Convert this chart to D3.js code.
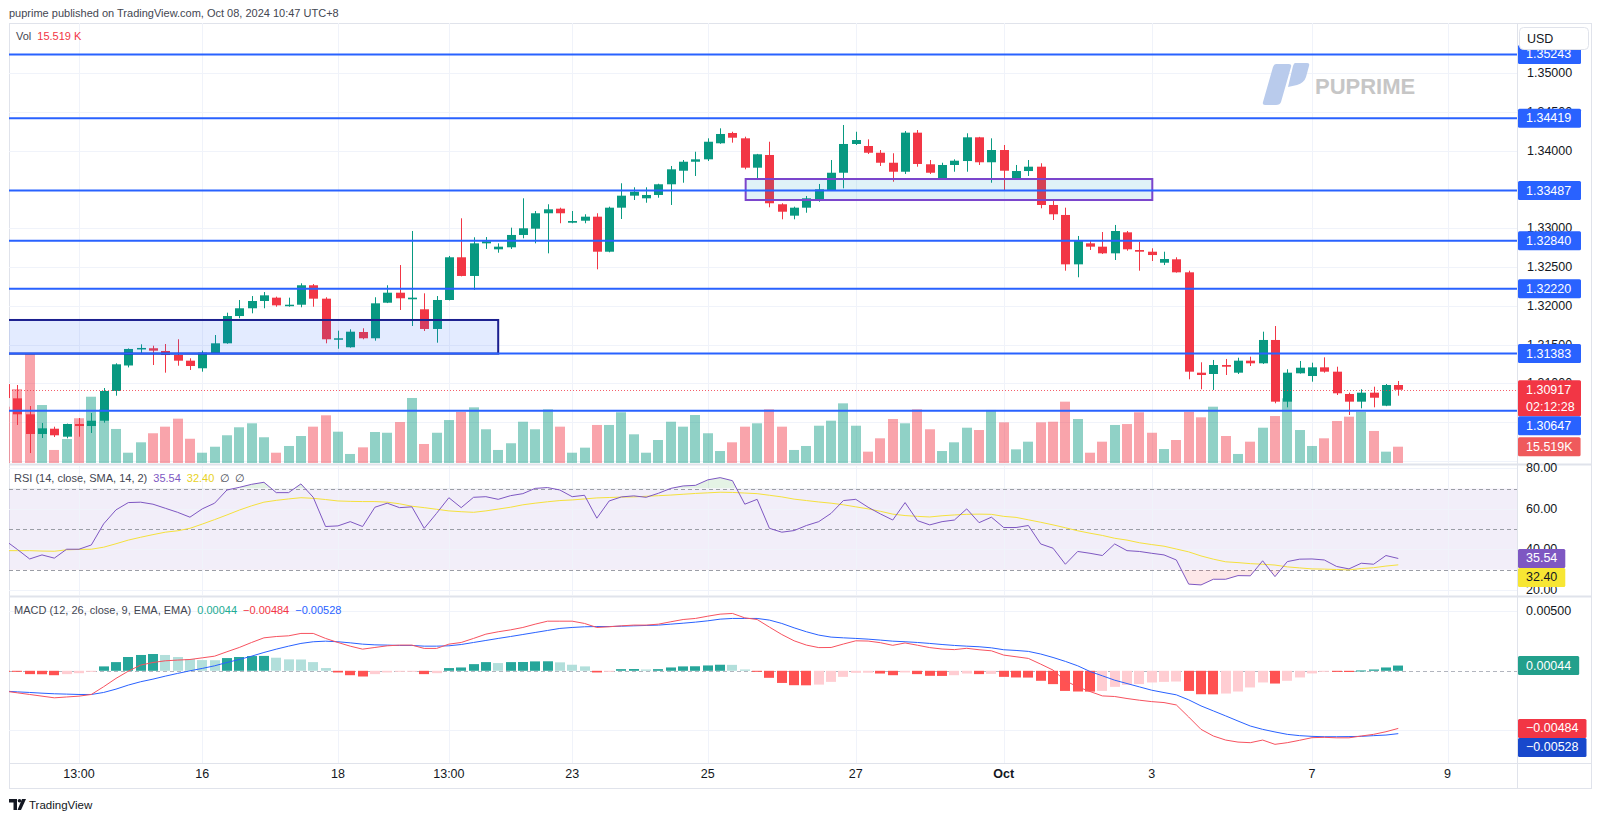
<!DOCTYPE html>
<html><head><meta charset="utf-8">
<script src="https://cdn.jsdelivr.net/npm/d3@7"></script>
<style>
html,body{margin:0;padding:0;background:#fff;overflow:hidden;}
svg{display:block;font-family:"Liberation Sans",Arial,sans-serif;}
</style></head><body>
<svg id="c" width="1600" height="819"></svg>
<script>
// ---------------- DATA ----------------
const opens = [1.30990,1.30806,1.30600,1.30346,1.30414,1.30311,1.30475,1.30449,1.30517,1.30901,
1.31230,1.31439,1.31452,1.31417,1.31365,1.31292,1.31194,1.31387,1.31516,1.31868,
1.31968,1.32062,1.32105,1.31997,1.32014,1.32265,1.32092,1.31568,1.31465,1.31662,
1.31581,1.32040,1.32169,1.32084,1.31955,1.31701,1.32075,1.32626,1.32385,1.32806,
1.32729,1.32755,1.32914,1.32995,1.33194,1.33253,1.33072,1.33098,1.33150,1.32698,
1.33266,1.33421,1.33387,1.33430,1.33568,1.33743,1.33859,1.33890,1.34097,1.34230,
1.34161,1.33782,1.33946,1.33310,1.33163,1.33266,1.33374,1.33494,1.33717,1.34088,
1.34062,1.33975,1.33846,1.33730,1.34234,1.33826,1.33645,1.33817,1.33868,1.34174,
1.33852,1.34010,1.33645,1.33739,1.33795,1.33301,1.33172,1.32535,1.32806,1.32763,
1.32677,1.32948,1.32720,1.32698,1.32556,1.32600,1.32432,1.31137,1.31120,1.31236,
1.31137,1.31292,1.31258,1.31559,1.30763,1.31129,1.31094,1.31206,1.31150,1.30862,
1.30763,1.30879,1.30711,1.30978];
const highs = [1.31040,1.30978,1.30707,1.30488,1.30440,1.30480,1.30552,1.30617,1.30939,1.31258,
1.31450,1.31503,1.31485,1.31507,1.31568,1.31323,1.31421,1.31623,1.31911,1.32075,
1.32126,1.32178,1.32118,1.32105,1.32290,1.32281,1.32110,1.31679,1.31697,1.31710,
1.32110,1.32265,1.32526,1.32965,1.32161,1.32126,1.32643,1.33129,1.32884,1.32887,
1.32806,1.33008,1.33387,1.33223,1.33310,1.33266,1.33223,1.33181,1.33194,1.33279,
1.33581,1.33529,1.33529,1.33575,1.33804,1.33881,1.33988,1.34161,1.34290,1.34246,
1.34182,1.33960,1.34117,1.33323,1.33279,1.33417,1.33572,1.33881,1.34333,1.34246,
1.34148,1.34010,1.33968,1.34255,1.34268,1.33881,1.33846,1.33890,1.34226,1.34180,
1.34161,1.34075,1.33817,1.33881,1.33839,1.33374,1.33266,1.32901,1.32849,1.32952,
1.33043,1.32965,1.32827,1.32742,1.32698,1.32626,1.32453,1.31271,1.31301,1.31314,
1.31330,1.31343,1.31666,1.31739,1.31181,1.31288,1.31266,1.31335,1.31214,1.30879,
1.30923,1.30956,1.30991,1.31030];
const lows = [1.30760,1.30462,1.30100,1.30294,1.30307,1.30290,1.30311,1.30359,1.30492,1.30840,
1.31205,1.31378,1.31236,1.31137,1.31227,1.31172,1.31150,1.31378,1.31510,1.31839,
1.31903,1.31968,1.31988,1.31988,1.31981,1.31988,1.31516,1.31446,1.31460,1.31568,
1.31550,1.32035,1.31946,1.31739,1.31675,1.31524,1.32070,1.32380,1.32204,1.32734,
1.32685,1.32733,1.32871,1.32806,1.32677,1.33065,1.33065,1.33065,1.32471,1.32690,
1.33120,1.33365,1.33330,1.33395,1.33301,1.33588,1.33675,1.33868,1.34090,1.34105,
1.33761,1.33632,1.33271,1.33116,1.33116,1.33201,1.33343,1.33490,1.33516,1.34075,
1.33959,1.33804,1.33601,1.33701,1.33795,1.33701,1.33640,1.33730,1.33730,1.33817,
1.33588,1.33494,1.33640,1.33675,1.33258,1.33107,1.32453,1.32368,1.32720,1.32668,
1.32591,1.32711,1.32453,1.32578,1.32526,1.32428,1.31052,1.30923,1.30914,1.31107,
1.31120,1.31223,1.31250,1.30742,1.30690,1.31125,1.31021,1.31137,1.30849,1.30591,
1.30677,1.30690,1.30705,1.30840];
const closes = [1.30810,1.30600,1.30346,1.30419,1.30329,1.30475,1.30449,1.30517,1.30901,1.31245,
1.31443,1.31456,1.31421,1.31365,1.31292,1.31223,1.31395,1.31516,1.31868,1.31968,
1.32062,1.32135,1.32006,1.32014,1.32265,1.32092,1.31568,1.31581,1.31666,1.31581,
1.32032,1.32169,1.32097,1.32105,1.31701,1.32075,1.32626,1.32385,1.32806,1.32832,
1.32763,1.32914,1.33000,1.33194,1.33245,1.33194,1.33094,1.33150,1.32698,1.33266,
1.33421,1.33472,1.33430,1.33568,1.33761,1.33859,1.33890,1.34117,1.34217,1.34169,
1.33782,1.33955,1.33323,1.33214,1.33266,1.33387,1.33503,1.33717,1.34088,1.34139,
1.33975,1.33846,1.33730,1.34234,1.33830,1.33717,1.33817,1.33872,1.34174,1.33852,
1.34010,1.33743,1.33739,1.33795,1.33301,1.33181,1.32535,1.32836,1.32763,1.32677,
1.32965,1.32729,1.32698,1.32655,1.32604,1.32432,1.31150,1.31107,1.31236,1.31214,
1.31292,1.31258,1.31559,1.30763,1.31137,1.31201,1.31206,1.31150,1.30871,1.30763,
1.30879,1.30814,1.30978,1.30917];
// volume in thousands
const volumes = [53.6,70.4,104.4,55.2,12.4,22.8,42.6,63.1,51.1,32.4,
9.8,19.7,28.3,34.6,42.2,23.1,9.8,15.5,26.4,34.0,
37.8,24.5,9.8,16.2,25.7,34.6,45.4,29.8,8.6,14.9,
29.5,28.8,39.0,61.9,18.1,28.8,40.9,48.6,53.0,32.1,
12.4,18.8,39.3,32.1,51.1,34.6,9.8,14.6,36.2,36.2,
48.3,27.3,9.8,21.9,39.3,34.6,45.7,28.3,11.4,19.7,
34.6,37.8,51.1,34.6,12.4,16.2,35.5,40.3,56.8,35.5,
10.8,23.5,41.9,37.8,51.1,32.1,11.4,19.7,33.6,31.4,
50.5,38.7,13.0,20.3,38.7,39.3,58.4,41.9,9.8,20.3,
36.2,37.1,48.3,28.8,13.3,21.9,48.8,43.5,53.6,25.7,
8.6,20.3,33.6,44.7,61.6,31.4,16.2,23.5,40.0,44.1,
48.8,30.5,10.8,15.519];
const rsi = [44.5,40.0,35.3,37.3,35.7,40.1,40.1,42.2,52.6,59.5,
63.1,63.3,62.3,60.3,58.3,55.9,60.0,62.8,69.3,70.6,
72.1,73.1,68.0,68.0,72.3,65.7,51.3,51.6,53.7,51.3,
60.8,62.8,60.6,61.0,50.4,57.8,65.5,60.6,65.7,66.0,
64.7,66.5,67.5,70.1,70.5,69.3,66.0,66.7,55.4,63.9,
65.9,66.4,65.7,67.7,70.1,71.3,71.6,74.3,75.4,73.9,
62.3,64.7,50.4,48.5,49.3,51.8,53.7,57.8,64.1,64.7,
60.8,57.5,54.5,63.1,54.2,52.1,53.7,54.5,60.0,53.2,
55.9,50.8,50.8,51.8,42.7,40.6,32.7,39.0,38.1,37.0,
42.7,39.4,39.0,38.1,37.3,34.8,22.9,22.5,25.3,25.3,
27.1,27.0,34.4,26.6,34.0,35.2,35.3,34.8,31.6,30.4,
33.2,32.7,37.0,35.54];
const rsiSma = [39.4,39.4,39.4,39.2,39.1,39.8,40.0,40.1,41.1,42.8,
44.6,46.0,47.3,48.5,49.2,50.4,52.5,54.7,57.0,59.4,
61.5,63.3,64.2,64.9,65.5,65.2,64.6,63.9,63.7,63.6,
63.6,63.3,62.5,61.3,60.6,59.8,59.0,58.6,58.3,59.0,
59.9,60.8,62.0,62.8,63.5,64.1,64.4,64.9,65.4,65.6,
65.8,65.9,66.2,66.5,66.8,67.2,67.6,67.9,68.2,68.1,
67.8,67.5,66.7,65.9,64.8,64.1,63.4,62.8,62.0,61.0,
60.0,58.8,57.4,56.7,56.3,56.0,56.6,57.0,57.3,57.4,
57.3,56.3,55.8,54.6,53.4,52.1,50.7,49.2,48.0,46.9,
45.5,44.6,43.3,42.4,41.6,40.2,38.8,36.8,35.2,33.9,
33.5,33.0,32.7,32.3,31.4,30.9,30.4,30.3,30.1,29.9,
30.6,31.0,31.8,32.40];
const macd = [-0.00171,-0.00185,-0.00199,-0.00213,-0.00227,-0.00220,-0.00213,-0.00199,-0.00134,-0.00064,
-0.00003,0.00048,0.00070,0.00084,0.00090,0.00095,0.00109,0.00123,0.00160,0.00196,
0.00238,0.00277,0.00288,0.00294,0.00314,0.00314,0.00272,0.00238,0.00207,0.00182,
0.00196,0.00210,0.00216,0.00216,0.00188,0.00188,0.00224,0.00238,0.00272,0.00308,
0.00328,0.00344,0.00364,0.00392,0.00417,0.00417,0.00417,0.00398,0.00364,0.00370,
0.00378,0.00384,0.00384,0.00392,0.00412,0.00431,0.00440,0.00459,0.00476,0.00482,
0.00445,0.00431,0.00367,0.00305,0.00252,0.00216,0.00195,0.00196,0.00225,0.00252,
0.00250,0.00236,0.00214,0.00234,0.00215,0.00195,0.00183,0.00178,0.00189,0.00177,
0.00168,0.00132,0.00118,0.00104,0.00056,0.00006,-0.00084,-0.00135,-0.00174,-0.00211,
-0.00216,-0.00233,-0.00247,-0.00259,-0.00267,-0.00287,-0.00388,-0.00492,-0.00548,-0.00582,
-0.00599,-0.00604,-0.00582,-0.00618,-0.00604,-0.00584,-0.00562,-0.00559,-0.00563,-0.00563,
-0.00548,-0.00534,-0.00512,-0.00484];
const signal = [-0.00171,-0.00177,-0.00182,-0.00188,-0.00193,-0.00196,-0.00199,-0.00199,-0.00182,-0.00154,
-0.00120,-0.00092,-0.00070,-0.00045,-0.00022,0.00000,0.00020,0.00042,0.00070,0.00095,
0.00123,0.00154,0.00182,0.00207,0.00230,0.00244,0.00249,0.00244,0.00235,0.00224,
0.00218,0.00216,0.00213,0.00213,0.00207,0.00207,0.00210,0.00221,0.00238,0.00255,
0.00272,0.00288,0.00305,0.00322,0.00339,0.00356,0.00364,0.00370,0.00372,0.00372,
0.00375,0.00378,0.00381,0.00384,0.00392,0.00400,0.00409,0.00420,0.00434,0.00440,
0.00440,0.00440,0.00426,0.00398,0.00361,0.00328,0.00300,0.00283,0.00277,0.00272,
0.00266,0.00258,0.00249,0.00244,0.00238,0.00230,0.00221,0.00213,0.00207,0.00202,
0.00193,0.00177,0.00171,0.00163,0.00141,0.00112,0.00079,0.00042,-0.00006,-0.00042,
-0.00079,-0.00107,-0.00135,-0.00163,-0.00183,-0.00202,-0.00244,-0.00295,-0.00337,-0.00379,
-0.00422,-0.00464,-0.00492,-0.00514,-0.00534,-0.00545,-0.00551,-0.00554,-0.00554,-0.00553,
-0.00551,-0.00545,-0.00540,-0.00528];
const hist = [-0.00002,-0.00008,-0.00028,-0.00029,-0.00037,-0.00028,-0.00020,-0.00003,0.00037,0.00073,
0.00116,0.00133,0.00141,0.00133,0.00116,0.00099,0.00090,0.00089,0.00107,0.00116,
0.00124,0.00125,0.00110,0.00096,0.00095,0.00073,0.00023,-0.00014,-0.00037,-0.00048,
-0.00028,-0.00014,-0.00006,-0.00005,-0.00028,-0.00020,0.00023,0.00028,0.00056,0.00073,
0.00065,0.00073,0.00074,0.00079,0.00080,0.00071,0.00051,0.00037,-0.00014,-0.00003,
0.00014,0.00015,0.00011,0.00014,0.00028,0.00037,0.00038,0.00045,0.00051,0.00050,
0.00011,-0.00008,-0.00059,-0.00102,-0.00121,-0.00122,-0.00116,-0.00093,-0.00051,-0.00017,
-0.00016,-0.00023,-0.00037,-0.00014,-0.00028,-0.00042,-0.00043,-0.00037,-0.00023,-0.00028,
-0.00026,-0.00051,-0.00056,-0.00057,-0.00084,-0.00112,-0.00169,-0.00174,-0.00175,-0.00169,
-0.00135,-0.00118,-0.00112,-0.00098,-0.00093,-0.00090,-0.00169,-0.00197,-0.00198,-0.00191,
-0.00174,-0.00140,-0.00098,-0.00107,-0.00084,-0.00056,-0.00022,-0.00008,-0.00009,-0.00010,
0.00003,0.00011,0.00028,0.00044];

const timeTickIdx = [6,16,27,36,46,57,69,81,93,106,117];
const timeTickLabels = ["13:00","16","18","13:00","23","25","27","Oct","3","7","9"];
// axis tick labels that remain (at least partly) visible next to the level labels
const priceTicks = [1.310,1.315,1.320,1.325,1.330,1.340,1.345,1.350];
const priceGrid = [1.300,1.305,1.310,1.315,1.320,1.325,1.330,1.335,1.340,1.345,1.350];
const hLevels = [1.35243,1.34419,1.33487,1.32840,1.32220,1.31383,1.30647];
const zoneStart = [-1, 60.07];
const zoneEnd = [40.0, 93.05];
const zoneTop = [1.31817, 1.33636];
const zoneBottom = [1.31383, 1.33365];
const rsiTicks = [80,60,40,20];
const rsiLevels = [70,50,30];
const macdTicks = [0.005];
const lastPrice = 1.30917, countdown = "02:12:28", lastVolLabel = "15.519K";

// ---------------- LAYOUT ----------------
const L = 9, R = 1517, AX = 1518;
const mainTop = 23, mainBot = 463;
const rsiTop = 466, rsiBot = 595;
const macdTop = 598, macdBot = 763;
const axisBot = 788;
const UP = "#089981", DN = "#f23645";
const GRID = "#f0f3fa";

const svg = d3.select("#c");
const N = closes.length;
const xs = d3.scaleLinear().domain([0, 117]).range([5, 1447.6]);
const yP = d3.scaleLinear().domain([1.30, 1.35]).range([460.8, 73.3]);
const yV = d3.scaleLinear().domain([0, 100]).range([mainBot, mainBot - 100/0.952]);
const yR = d3.scaleLinear().domain([20, 80]).range([590, 468.3]);
const yM = d3.scaleLinear().domain([-0.005, 0.005]).range([730.3, 611.3]);
const px = i => Math.round(xs(i));

const defs = svg.append("defs");
function clip(id, x, y, w, h){ defs.append("clipPath").attr("id", id).append("rect").attr("x",x).attr("y",y).attr("width",w).attr("height",h); }
clip("cMain", L, mainTop, R-L, mainBot-mainTop);
clip("cRsi", L, rsiTop, R-L, rsiBot-rsiTop);
clip("cMacd", L, macdTop, R-L, macdBot-macdTop);
clip("cOB", L, rsiTop, R-L, yR(70)-rsiTop);
clip("cOS", L, yR(30), R-L, rsiBot-yR(30));

// header
svg.append("text").attr("x", 9).attr("y", 13).attr("dominant-baseline","central")
  .attr("font-size", 11).attr("fill", "#434651")
  .text("puprime published on TradingView.com, Oct 08, 2024 10:47 UTC+8");

// frame
svg.append("rect").attr("x", L+0.5).attr("y", mainTop+0.5).attr("width", 1591-L).attr("height", axisBot-mainTop)
  .attr("fill","none").attr("stroke","#e0e3eb");
svg.append("line").attr("x1",R+0.5).attr("x2",R+0.5).attr("y1",mainTop).attr("y2",axisBot).attr("stroke","#e0e3eb");
[[464.5,2],[596.5,2],[763.5,1]].forEach(([y,w])=>{
  svg.append("line").attr("x1",L).attr("x2",1591).attr("y1",y).attr("y2",y).attr("stroke","#e0e3eb").attr("stroke-width",w);
});

// ---------- MAIN PANE ----------
const gm = svg.append("g").attr("clip-path","url(#cMain)");
gm.selectAll("line.hg").data(priceGrid).join("line")
  .attr("x1",L).attr("x2",R).attr("y1",d=>Math.round(yP(d))+0.5).attr("y2",d=>Math.round(yP(d))+0.5).attr("stroke",GRID);
gm.selectAll("line.vg").data(timeTickIdx).join("line")
  .attr("x1",i=>px(i)+0.5).attr("x2",i=>px(i)+0.5).attr("y1",mainTop).attr("y2",mainBot).attr("stroke",GRID);

// watermark logo
const wm = gm.append("g");
wm.append("path").attr("d","M1276,64 L1289,64 Q1292,64 1291,67 L1281,102 Q1280,105 1276,105 L1265,105 Q1262,105 1263,102 L1273,67 Q1274,64 1276,64 Z").attr("fill","#b9cbec");
wm.append("path").attr("d","M1295,63 L1307,63 Q1310,63 1309,66 L1306,77 Q1304,83 1297,85 L1288,87 L1293,66 Q1294,63 1295,63 Z").attr("fill","#b9cbec");
wm.append("text").attr("x",1315).attr("y",94).attr("font-size",22).attr("font-weight","bold").attr("fill","#c6c6c6").text("PUPRIME");

// volume
gm.selectAll("rect.vol").data(d3.range(N)).join("rect")
  .attr("x", i=>px(i)-5).attr("width", 10)
  .attr("y", i=>yV(volumes[i])).attr("height", i=>mainBot - yV(volumes[i]))
  .attr("fill", i=> closes[i]>=opens[i] ? "rgba(8,153,129,0.45)" : "rgba(242,54,69,0.45)");

// candles
gm.selectAll("line.wick").data(d3.range(N)).join("line")
  .attr("x1", i=>px(i)+0.5).attr("x2", i=>px(i)+0.5)
  .attr("y1", i=>yP(highs[i])).attr("y2", i=>yP(lows[i]))
  .attr("stroke", i=> closes[i]>=opens[i]?UP:DN).attr("stroke-width",1);
gm.selectAll("rect.body").data(d3.range(N)).join("rect")
  .attr("x", i=>px(i)-4).attr("width", 9)
  .attr("y", i=>yP(Math.max(opens[i],closes[i])))
  .attr("height", i=>Math.max(1.5, Math.abs(yP(opens[i])-yP(closes[i]))))
  .attr("fill", i=> closes[i]>=opens[i]?UP:DN);

// current price dotted line
gm.append("line").attr("x1",L).attr("x2",R).attr("y1",Math.round(yP(lastPrice))+0.5).attr("y2",Math.round(yP(lastPrice))+0.5)
  .attr("stroke",DN).attr("stroke-width",1).attr("stroke-dasharray","1,2").attr("opacity",0.8);

// zones
const zoneFill = ["rgba(41,98,255,0.13)","rgba(0,151,200,0.12)"];
const zoneStroke = ["#1b1f8f","#7b45cc"];
d3.range(zoneStart.length).forEach(k=>{
  gm.append("rect").attr("x", xs(zoneStart[k])).attr("y", yP(zoneTop[k]))
    .attr("width", xs(zoneEnd[k])-xs(zoneStart[k])).attr("height", yP(zoneBottom[k])-yP(zoneTop[k]))
    .attr("fill", zoneFill[k]).attr("stroke", zoneStroke[k]).attr("stroke-width", 2);
});

// horizontal levels
gm.selectAll("line.lvl").data(hLevels).join("line")
  .attr("x1",L).attr("x2",R).attr("y1",d=>yP(d)).attr("y2",d=>yP(d))
  .attr("stroke","#2962ff").attr("stroke-width",2);

// legend Vol
const lv = svg.append("text").attr("x",16).attr("y",36).attr("dominant-baseline","central").attr("font-size",11);
lv.append("tspan").attr("fill","#434651").text("Vol");
lv.append("tspan").attr("dx",6).attr("fill",DN).text("15.519 K");

// ---------- RSI PANE ----------
const gr = svg.append("g").attr("clip-path","url(#cRsi)");
gr.append("rect").attr("x",L).attr("width",R-L).attr("y",yR(70)).attr("height",yR(30)-yR(70)).attr("fill","rgba(126,87,194,0.1)");
gr.selectAll("line.rg").data(rsiTicks).join("line")
  .attr("x1",L).attr("x2",R).attr("y1",d=>Math.round(yR(d))+0.5).attr("y2",d=>Math.round(yR(d))+0.5).attr("stroke",GRID);
gr.selectAll("line.vg").data(timeTickIdx).join("line")
  .attr("x1",i=>px(i)+0.5).attr("x2",i=>px(i)+0.5).attr("y1",rsiTop).attr("y2",rsiBot).attr("stroke",GRID);
gr.selectAll("line.rl").data(rsiLevels).join("line")
  .attr("x1",L).attr("x2",R).attr("y1",d=>Math.round(yR(d))+0.5).attr("y2",d=>Math.round(yR(d))+0.5)
  .attr("stroke","#9b9ea6").attr("stroke-dasharray","4,3");
const rsiArea = lvl => d3.area().x((d,i)=>xs(i)).y0(yR(lvl)).y1(d=>yR(d));
gr.append("path").datum(rsi).attr("d", rsiArea(70)).attr("fill","rgba(76,175,80,0.15)").attr("clip-path","url(#cOB)");
gr.append("path").datum(rsi).attr("d", rsiArea(30)).attr("fill","rgba(242,54,69,0.12)").attr("clip-path","url(#cOS)");
const lineR = d3.line().x((d,i)=>xs(i)).y(d=>yR(d));
gr.append("path").datum(rsiSma).attr("d",lineR).attr("fill","none").attr("stroke","#f5e13c").attr("stroke-width",1);
gr.append("path").datum(rsi).attr("d",lineR).attr("fill","none").attr("stroke","#7e57c2").attr("stroke-width",1);

const lr = svg.append("text").attr("x",14).attr("y",478).attr("dominant-baseline","central").attr("font-size",11);
lr.append("tspan").attr("fill","#434651").text("RSI (14, close, SMA, 14, 2)");
lr.append("tspan").attr("dx",6).attr("fill","#7e57c2").text("35.54");
lr.append("tspan").attr("dx",6).attr("fill","#e8d21d").text("32.40");
lr.append("tspan").attr("dx",6).attr("fill","#434651").text("∅");
lr.append("tspan").attr("dx",5).attr("fill","#434651").text("∅");

// ---------- MACD PANE ----------
const gc = svg.append("g").attr("clip-path","url(#cMacd)");
gc.selectAll("line.mg").data([0.005,-0.005]).join("line")
  .attr("x1",L).attr("x2",R).attr("y1",d=>Math.round(yM(d))+0.5).attr("y2",d=>Math.round(yM(d))+0.5).attr("stroke",GRID);
gc.selectAll("line.vg").data(timeTickIdx).join("line")
  .attr("x1",i=>px(i)+0.5).attr("x2",i=>px(i)+0.5).attr("y1",macdTop).attr("y2",macdBot).attr("stroke",GRID);
gc.append("line").attr("x1",L).attr("x2",R).attr("y1",Math.round(yM(0))+0.5).attr("y2",Math.round(yM(0))+0.5)
  .attr("stroke","#b2b5be").attr("stroke-dasharray","4,3");
const histColor = i => {
  const v = hist[i], p = i>0 ? hist[i-1] : 0;
  if (v >= 0) return v > p ? "#26a69a" : "#b2dfdb";
  return v < p ? "#ff5252" : "#ffcdd2";
};
gc.selectAll("rect.h").data(d3.range(N)).join("rect")
  .attr("x", i=>px(i)-5).attr("width",10)
  .attr("y", i=>Math.min(yM(0),yM(hist[i]))).attr("height", i=>Math.max(1,Math.abs(yM(hist[i])-yM(0))))
  .attr("fill", histColor);
const lineM = d3.line().x((d,i)=>xs(i)).y(d=>yM(d));
gc.append("path").datum(signal).attr("d",lineM).attr("fill","none").attr("stroke","#2962ff").attr("stroke-width",1);
gc.append("path").datum(macd).attr("d",lineM).attr("fill","none").attr("stroke","#f7525f").attr("stroke-width",1);

const lm = svg.append("text").attr("x",14).attr("y",610).attr("dominant-baseline","central").attr("font-size",11);
lm.append("tspan").attr("fill","#434651").text("MACD (12, 26, close, 9, EMA, EMA)");
lm.append("tspan").attr("dx",6).attr("fill","#22ab94").text("0.00044");
lm.append("tspan").attr("dx",6).attr("fill","#f23645").text("−0.00484");
lm.append("tspan").attr("dx",6).attr("fill","#2962ff").text("−0.00528");

// ---------- TIME AXIS ----------
const ta = svg.append("g");
ta.selectAll("text").data(timeTickIdx).join("text")
  .attr("x", i=>xs(i)).attr("y", 774).attr("text-anchor","middle").attr("dominant-baseline","central")
  .attr("font-size", 12.5).attr("fill","#131722")
  .attr("font-weight", (d,k)=> timeTickLabels[k]==="Oct" ? "bold" : "normal")
  .text((d,k)=>timeTickLabels[k]);

// footer TradingView logo
const fl = svg.append("g").attr("fill","#131722");
fl.append("path").attr("d","M9,799 H17 V810 H13.5 V802.5 H9 Z");
fl.append("circle").attr("cx",19.5).attr("cy",800.8).attr("r",1.8);
fl.append("path").attr("d","M22,799 H26 L21,810 H17.5 Z");
svg.append("text").attr("x",29).attr("y",804.5).attr("dominant-baseline","central").attr("font-size",11.5).attr("fill","#131722").text("TradingView");

// ---------- RIGHT AXIS ----------
const ax = svg.append("g");
ax.selectAll("text.pt").data(priceTicks).join("text")
  .attr("x",1527).attr("y",d=>yP(d)).attr("dominant-baseline","central").attr("font-size",12.5).attr("fill","#131722")
  .text(d=>d.toFixed(5));
ax.selectAll("text.rt").data(rsiTicks).join("text")
  .attr("x",1526).attr("y",d=>yR(d)).attr("dominant-baseline","central").attr("font-size",12.5).attr("fill","#131722")
  .text(d=>d.toFixed(2));
ax.selectAll("text.mt").data(macdTicks).join("text")
  .attr("x",1526).attr("y",d=>yM(d)).attr("dominant-baseline","central").attr("font-size",12.5).attr("fill","#131722")
  .text(d=>d.toFixed(5));

function placeLabels(list){
  list.sort((a,b)=>a.y-b.y);
  let prev = -1e9;
  list.forEach(l=>{
    let top = l.y - l.anchor;
    if (top < prev) top = prev;
    l.top = top; prev = top + l.h;
  });
  list.forEach(l=>{
    const g = ax.append("g");
    const r = g.append("rect").attr("x",AX).attr("y",l.top).attr("height",l.h).attr("rx",1.5).attr("fill",l.bg);
    let maxw = 0;
    l.lines.forEach((t,k)=>{
      const tx = g.append("text").attr("x",AX+8).attr("y",l.top+9.5+k*17).attr("dominant-baseline","central")
        .attr("font-size",12.5).attr("fill",l.fg).text(t);
      maxw = Math.max(maxw, tx.node().getComputedTextLength());
    });
    r.attr("width", l.w || maxw+16);
  });
}
const mainLabels = hLevels.map(v=>({y:yP(v), anchor:9.5, h:19, bg:"#2962ff", fg:"#fff", lines:[v.toFixed(5)], w:63}));
mainLabels.push({y:yP(lastPrice), anchor:9.5, h:36, bg:"#f23645", fg:"#fff", lines:[lastPrice.toFixed(5), countdown], w:63});
mainLabels.push({y:yV(volumes[N-1]), anchor:9.5, h:19, bg:"#ef5a5c", fg:"#fff", lines:[lastVolLabel]});
placeLabels(mainLabels);
placeLabels([
  {y:yR(rsi[N-1]), anchor:9.5, h:19, bg:"#7e57c2", fg:"#fff", lines:[rsi[N-1].toFixed(2)]},
  {y:yR(rsiSma[N-1]), anchor:9.5, h:19, bg:"#f7e633", fg:"#131722", lines:[rsiSma[N-1].toFixed(2)]}
]);
placeLabels([
  {y:yM(hist[N-1]), anchor:9.5, h:19, bg:"#22a08c", fg:"#fff", lines:[hist[N-1].toFixed(5)]},
  {y:yM(macd[N-1]), anchor:9.5, h:19, bg:"#f23645", fg:"#fff", lines:["−"+Math.abs(macd[N-1]).toFixed(5)]},
  {y:yM(signal[N-1]), anchor:9.5, h:19, bg:"#1848cc", fg:"#fff", lines:["−"+Math.abs(signal[N-1]).toFixed(5)]}
]);

// USD box
ax.append("rect").attr("x",1519.5).attr("y",27.5).attr("width",69).attr("height",22).attr("rx",4).attr("fill","#fff").attr("stroke","#e0e3eb");
ax.append("text").attr("x",1527).attr("y",38.5).attr("dominant-baseline","central").attr("font-size",12.5).attr("fill","#131722").text("USD");
</script>
</body></html>
